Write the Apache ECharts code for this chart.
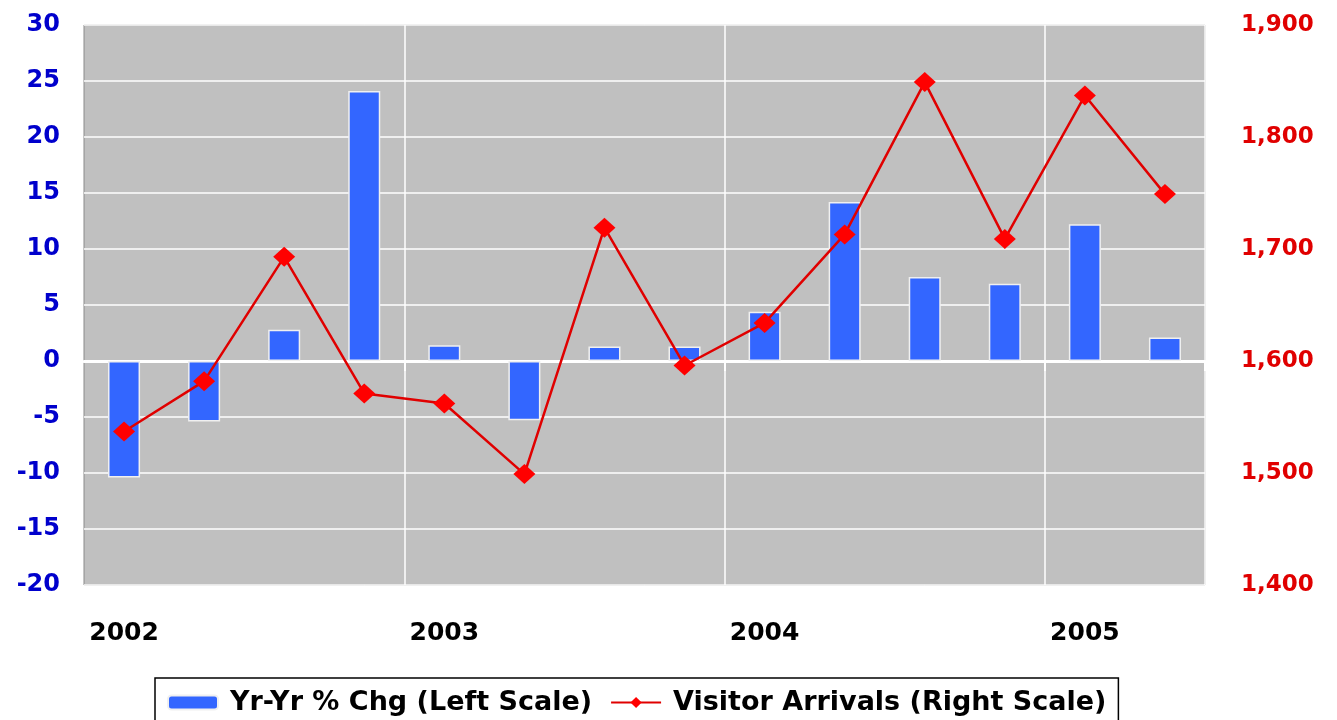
<!DOCTYPE html>
<html>
<head>
<meta charset="utf-8">
<script src="https://cdn.jsdelivr.net/npm/echarts@6/dist/echarts.min.js"></script>
<style>html,body{margin:0;padding:0;background:#fff;}#c{width:1337px;height:720px;}</style>
</head>
<body>
<div id="c"></div>
<script>
var quarters = ['2002Q1','2002Q2','2002Q3','2002Q4','2003Q1','2003Q2','2003Q3','2003Q4','2004Q1','2004Q2','2004Q3','2004Q4','2005Q1','2005Q2'];
var yoyChange = [-10.4, -5.4, 2.8, 24.1, 1.4, -5.3, 1.3, 1.3, 4.4, 14.2, 7.5, 6.9, 12.2, 2.1];
var visitorArrivals = [1537, 1582, 1693, 1571, 1562, 1499, 1719, 1596, 1634, 1713, 1849, 1709, 1837, 1749];
var leftTicks = {min: -20, max: 30, interval: 5};
var rightTicks = {min: 1400, max: 1900, interval: 100};
var seriesNames = ['Yr-Yr % Chg (Left Scale)', 'Visitor Arrivals (Right Scale)'];

var chart = echarts.init(document.getElementById('c'));
var font = 'DejaVu Sans, Verdana, sans-serif';
chart.setOption({
  animation: false,
  backgroundColor: '#fff',
  grid: {left: 84, right: 132, top: 25, bottom: 135, show: true, backgroundColor: '#C0C0C0', borderColor: '#8a8a8a', borderWidth: 1},
  legend: {
    bottom: -14, left: 155,
    data: seriesNames,
    borderColor: '#000', borderWidth: 1.5,
    padding: [11, 12, 18, 12],
    itemWidth: 50, itemHeight: 14, itemGap: 18,
    textStyle: {fontFamily: font, fontWeight: 'bold', fontSize: 27, color: '#000', padding: [0, 0, 0, 7]}
  },
  xAxis: [{
    type: 'category', data: quarters, position: 'bottom',
    axisLine: {show: false, onZero: false},
    axisTick: {show: false},
    axisLabel: {interval: function (i) { return i % 4 === 0; }, formatter: function (v) { return v.slice(0, 4); }, margin: 36, fontFamily: font, fontWeight: 'bold', fontSize: 25, color: '#000'},
    splitLine: {show: true, interval: function (i) { return i % 4 === 0 && i > 0; }, lineStyle: {color: '#fff', width: 1.5}}
  }, {
    type: 'category', data: quarters, position: 'bottom',
    axisLine: {show: true, onZero: true, lineStyle: {color: '#fff', width: 3}},
    axisTick: {show: true, interval: function (i) { return i % 4 === 0 && i > 0; }, length: 10, lineStyle: {color: '#fff', width: 2}},
    axisLabel: {show: false},
    splitLine: {show: false}
  }],
  yAxis: [{
    type: 'value', min: leftTicks.min, max: leftTicks.max, interval: leftTicks.interval,
    axisLine: {show: false}, axisTick: {show: false},
    axisLabel: {margin: 24, fontFamily: font, fontWeight: 'bold', fontSize: 24, color: '#0000CC'},
    splitLine: {show: true, lineStyle: {color: '#fff', width: 1.5}}
  }, {
    type: 'value', min: rightTicks.min, max: rightTicks.max, interval: rightTicks.interval,
    axisLine: {show: false}, axisTick: {show: false},
    axisLabel: {margin: 36, fontFamily: font, fontWeight: 'bold', fontSize: 23, color: '#E00000',
      formatter: function (v) { return v.toLocaleString('en-US'); }},
    splitLine: {show: false}
  }],
  series: [{
    name: seriesNames[0], type: 'bar', xAxisIndex: 0, yAxisIndex: 0,
    data: yoyChange, barWidth: '40%',
    itemStyle: {color: '#3366FF', borderColor: '#f0f0f0', borderWidth: 1.5}
  }, {
    name: seriesNames[1], type: 'line', xAxisIndex: 0, yAxisIndex: 1,
    data: visitorArrivals,
    symbol: 'diamond', symbolSize: [22, 20],
    lineStyle: {color: '#E00000', width: 2.5},
    itemStyle: {color: '#FF0000'}
  }]
});
</script>
</body>
</html>
